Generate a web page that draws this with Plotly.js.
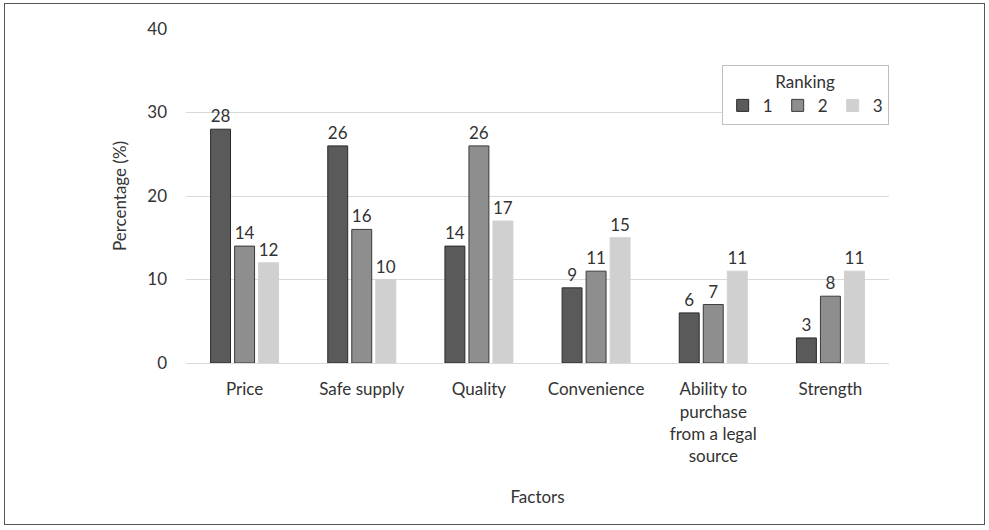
<!DOCTYPE html>
<html>
<head>
<meta charset="utf-8">
<script src="https://cdn.plot.ly/plotly-3.0.1.min.js"></script>
<style>
  html, body { margin: 0; padding: 0; background: #fff; }
  #wrap { position: relative; width: 989px; height: 530px; }
  #chart { position: absolute; left: 0; top: 0; width: 989px; height: 530px; }
  #frame { position: absolute; left: 4px; top: 3px; width: 979px; height: 520px;
           border: 1px solid #555; pointer-events: none; }
</style>
</head>
<body>
<div id="wrap">
  <div id="chart"></div>
  <div id="frame"></div>
</div>
<script>
// Factors and the share of respondents ranking each one 1st, 2nd and 3rd
const factors = ["Price", "Safe supply", "Quality", "Convenience",
                 "Ability to<br>purchase<br>from a legal<br>source", "Strength"];
const rank1 = [28, 26, 14, 9, 6, 3];
const rank2 = [14, 16, 26, 11, 7, 8];
const rank3 = [12, 10, 17, 15, 11, 11];
const rankNames = ["1", "2", "3"];

const fontFam = "Lato, 'Open Sans', sans-serif";
const textCol = "#333333";

function barTrace(name, vals, fill, edge) {
  return {
    type: "bar",
    name: name,
    x: factors,
    y: vals,
    text: vals.map(String),
    textposition: "outside",
    cliponaxis: false,
    textfont: { family: fontFam, size: 17, color: textCol },
    marker: { color: fill, line: { color: edge, width: 1 } },
    hoverinfo: "x+y"
  };
}

const data = [
  barTrace(rankNames[0], rank1, "#5a5a5a", "#2a2a2a"),
  barTrace(rankNames[1], rank2, "#8e8e8e", "#3a3a3a"),
  barTrace(rankNames[2], rank3, "#d0d0d0", "#d0d0d0")
];

const layout = {
  width: 989,
  height: 530,
  margin: { l: 186, r: 100, t: 29, b: 167, autoexpand: false },
  paper_bgcolor: "#ffffff",
  plot_bgcolor: "#ffffff",
  font: { family: fontFam, size: 17, color: textCol },
  barmode: "group",
  bargap: 0.385,
  bargroupgap: 0.17,
  showlegend: true,
  legend: {
    orientation: "h",
    x: 0.762, xanchor: "left",
    y: 0.893, yanchor: "top",
    bordercolor: "#bfbfbf",
    borderwidth: 1,
    bgcolor: "#ffffff",
    font: { family: fontFam, size: 17, color: textCol },
    title: { text: "Ranking", side: "top center", font: { family: fontFam, size: 17, color: textCol } },
    itemwidth: 30,
    entrywidth: 10,
    entrywidthmode: "pixels",
    tracegroupgap: 0
  },
  xaxis: {
    type: "category",
    showgrid: false,
    showline: true,
    linecolor: "#d9d9d9",
    linewidth: 1,
    ticks: "",
    ticklabelstandoff: 11,
    tickfont: { family: fontFam, size: 17, color: textCol },
    title: { text: "Factors", font: { family: fontFam, size: 17, color: textCol }, standoff: 26 }
  },
  yaxis: {
    range: [0, 40],
    dtick: 10,
    showgrid: true,
    gridcolor: "#d9d9d9",
    gridwidth: 1,
    zeroline: false,
    showline: false,
    ticks: "",
    ticklabelstandoff: 18,
    tickfont: { family: fontFam, size: 17, color: textCol },
    title: { text: "Percentage (%)", font: { family: fontFam, size: 17, color: textCol }, standoff: 16 }
  }
};

Plotly.newPlot("chart", data, layout, { displayModeBar: false, staticPlot: true });
</script>
</body>
</html>
